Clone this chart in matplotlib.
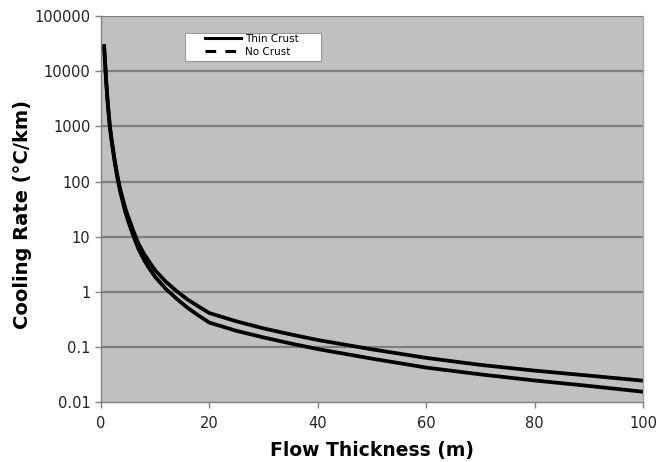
import matplotlib
matplotlib.use('Agg')
import matplotlib.pyplot as plt
from matplotlib.lines import Line2D
from matplotlib.patches import Rectangle
from matplotlib.ticker import FixedLocator, FixedFormatter, NullLocator

# values
thickness = [0.6, 0.7, 0.8, 0.9, 1.0, 1.2, 1.4, 1.66, 2.0, 2.5, 3.0, 3.5, 4.0, 4.5,
             5.0, 5.5, 6.0, 7, 8, 9, 10, 12, 14, 16, 18, 20,
             25, 30, 35, 40, 50, 60, 70, 80, 90, 100]
no_crust = [28800, 19500, 13500, 9100, 6300, 3300, 1950, 1020, 560, 263, 135, 78, 50, 33,
            23.4, 17.4, 12.6, 7.2, 4.8, 3.4, 2.45, 1.51, 1.02, 0.72, 0.54, 0.41,
            0.29, 0.216, 0.168, 0.133, 0.090, 0.063, 0.047, 0.037, 0.030, 0.0243]
thin_crust = [27500, 18600, 12900, 8700, 6000, 3160, 1820, 955, 525, 240, 123, 69, 44, 28,
              19.5, 14.1, 10.2, 5.75, 3.7, 2.57, 1.86, 1.12, 0.74, 0.51, 0.37, 0.275,
              0.195, 0.148, 0.115, 0.091, 0.061, 0.042, 0.0316, 0.0245, 0.0195, 0.0153]

yticks = [0.01, 0.1, 1, 10, 100, 1000, 10000, 100000]
ytick_labels = ['0.01', '0.1', '1', '10', '100', '1000', '10000', '100000']
xticks = [0, 20, 40, 60, 80, 100]

fig = plt.figure(figsize=(6.68, 4.62), dpi=100)
ax = fig.add_axes([0.151, 0.130, 0.812, 0.835])
ax.set_facecolor('#c0c0c0')

ax.plot(thickness, no_crust, color='black', lw=2.7, solid_joinstyle='round')
ax.plot(thickness, thin_crust, color='black', lw=2.7, solid_joinstyle='round')

ax.set_yscale('log')
ax.set_ylim(0.01, 100000)
ax.set_xlim(0, 100)
ax.yaxis.set_major_locator(FixedLocator(yticks))
ax.yaxis.set_major_formatter(FixedFormatter(ytick_labels))
ax.yaxis.set_minor_locator(NullLocator())
ax.set_xticks(xticks)

for y in yticks[1:]:
    ax.axhline(y, color='#7f7f7f', lw=1.6, zorder=1)

for s in ['left', 'bottom']:
    ax.spines[s].set_color('#808080')
    ax.spines[s].set_linewidth(1.0)
ax.spines['top'].set_visible(False)
ax.spines['right'].set_color('#a8a8a8')
ax.spines['right'].set_linewidth(1.0)

ax.tick_params(direction='out', length=4, width=1, color='#808080',
               labelsize=10.5, labelcolor='#222222')
ax.tick_params(axis='x', pad=6)

ax.set_xlabel('Flow Thickness (m)', fontsize=13.5, fontweight='bold', labelpad=7)
ax.set_ylabel('Cooling Rate (\u00b0C/km)', fontsize=14, fontweight='bold')
ax.yaxis.set_label_coords(-0.127, 0.487)

# legend box (Excel style, wider than its contents)
ax.add_patch(Rectangle((0.155, 0.883), 0.251, 0.073, transform=ax.transAxes,
                       facecolor='white', edgecolor='#999999', lw=0.8, zorder=4))
handles = [Line2D([], [], color='black', lw=2.2),
           Line2D([], [], color='black', lw=2.2, ls=(0, (3.5, 3)))]
leg = ax.legend(handles, ['Thin Crust', 'No Crust'], loc='upper left',
                bbox_to_anchor=(0.192, 0.955), fontsize=7.5, frameon=False,
                handlelength=3.5, handletextpad=0.3, borderpad=0,
                labelspacing=0.3, borderaxespad=0)
leg.set_zorder(5)

fig.savefig('out.png', dpi=100)
